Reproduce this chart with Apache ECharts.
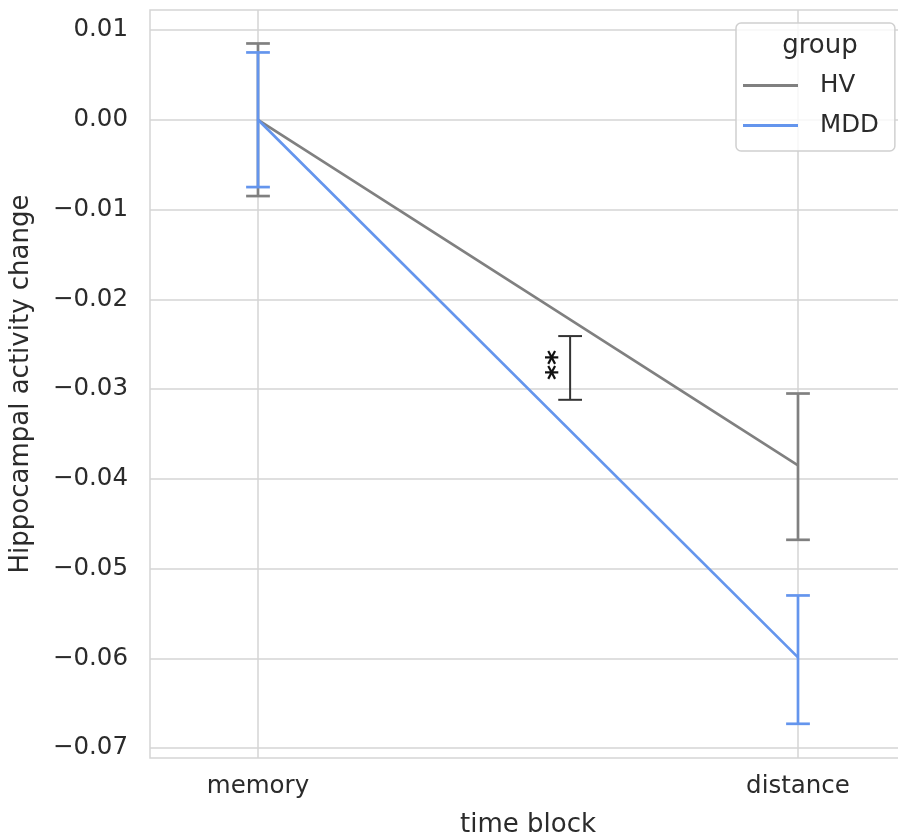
<!DOCTYPE html>
<html>
<head>
<meta charset="utf-8">
<script src="https://cdn.jsdelivr.net/npm/echarts@6/dist/echarts.min.js"></script>
<style>html,body{margin:0;padding:0;background:#fff}#c{width:898px;height:838px}</style>
</head>
<body>
<div id="c"></div>
<script>
// ---- data ----
const categories = ['memory', 'distance'];
const categoryPos = [0, 1];
const hvMean = [0.0, -0.0385];
const hvLow = [-0.0085, -0.0468];
const hvHigh = [0.0085, -0.0305];
const mddMean = [0.0, -0.0599];
const mddLow = [-0.0075, -0.0673];
const mddHigh = [0.0075, -0.0530];
const sigX = [0.578];
const sigLow = [-0.0312];
const sigHigh = [-0.0241];
const sigLabel = '**';
const yTicks = [0.01, 0.0, -0.01, -0.02, -0.03, -0.04, -0.05, -0.06, -0.07];
const yTickLabels = ['0.01', '0.00', '\u22120.01', '\u22120.02', '\u22120.03', '\u22120.04', '\u22120.05', '\u22120.06', '\u22120.07'];

const FONT = 'DejaVu Sans';
const TXT = '#2b2b2b';
const GRID = '#d5d5d5';
const HV_C = '#808080';
const MDD_C = '#6495ED';
const TICK_FS = 24.5;
const LABEL_FS = 26;

function lineData(means) { return categoryPos.map((x, i) => [x, means[i]]); }
function errData(lo, hi) { return categoryPos.map((x, i) => [x, lo[i], hi[i]]); }

function errRender(color, width) {
  return function (params, api) {
    const x = api.value(0), lo = api.value(1), hi = api.value(2);
    const pLo = api.coord([x, lo]);
    const pHi = api.coord([x, hi]);
    const half = api.size([0.022, 0])[0];
    const st = { stroke: color, lineWidth: width };
    return {
      type: 'group',
      children: [
        { type: 'line', shape: { x1: pLo[0], y1: pLo[1], x2: pHi[0], y2: pHi[1] }, style: st },
        { type: 'line', shape: { x1: pLo[0] - half, y1: pLo[1], x2: pLo[0] + half, y2: pLo[1] }, style: st },
        { type: 'line', shape: { x1: pHi[0] - half, y1: pHi[1], x2: pHi[0] + half, y2: pHi[1] }, style: st }
      ]
    };
  };
}

const chart = echarts.init(document.getElementById('c'), null, { renderer: 'canvas' });
chart.setOption({
  animation: false,
  backgroundColor: '#fff',
  textStyle: { fontFamily: FONT, color: TXT },
  grid: { left: 150, top: 10, width: 756, bottom: 80, show: true, borderColor: GRID, borderWidth: 1.5, containLabel: false, outerBoundsMode: 'none' },
  title: {
    text: 'group', left: 815, top: 28, textAlign: 'center',
    textStyle: { fontFamily: FONT, fontSize: LABEL_FS, fontWeight: 'normal', color: TXT }
  },
  legend: {
    data: ['HV', 'MDD'],
    orient: 'vertical',
    left: 736, top: 23,
    padding: [50, 16, 13, 7],
    icon: 'rect',
    itemWidth: 55, itemHeight: 3, itemGap: 15,
    borderColor: '#d0d0d0', borderWidth: 1.5, borderRadius: 5,
    backgroundColor: 'rgba(255,255,255,0.8)',
    textStyle: { fontFamily: FONT, fontSize: TICK_FS, color: TXT, padding: [0, 0, 0, 17] }
  },
  xAxis: {
    type: 'value', min: -0.2, max: 1.2,
    name: 'time block', nameLocation: 'middle', nameGap: 54,
    nameTextStyle: { fontFamily: FONT, fontSize: LABEL_FS, color: TXT },
    axisLine: { show: false }, axisTick: { show: false, customValues: categoryPos },
    splitLine: { show: true, lineStyle: { color: GRID, width: 1.5 } },
    axisLabel: {
      customValues: categoryPos, margin: 16,
      fontFamily: FONT, fontSize: TICK_FS, color: TXT,
      formatter: function (v) { const i = categoryPos.findIndex(p => Math.abs(p - v) < 1e-9); return i >= 0 ? categories[i] : ''; }
    }
  },
  yAxis: {
    type: 'value', min: -0.07111, max: 0.01223,
    name: 'Hippocampal activity change', nameLocation: 'middle', nameGap: 116,
    nameTextStyle: { fontFamily: FONT, fontSize: LABEL_FS, color: TXT },
    axisLine: { show: false }, axisTick: { show: false, customValues: yTicks },
    splitLine: { show: true, lineStyle: { color: GRID, width: 1.5 } },
    axisLabel: {
      customValues: yTicks, margin: 22,
      fontFamily: FONT, fontSize: TICK_FS, color: TXT,
      formatter: function (v) { const i = yTicks.findIndex(p => Math.abs(p - v) < 1e-9); return i >= 0 ? yTickLabels[i] : ''; }
    }
  },
  series: [
    {
      name: 'HV', type: 'line', data: lineData(hvMean), symbol: 'none',
      lineStyle: { color: HV_C, width: 2.7 }, itemStyle: { color: HV_C }, z: 3
    },
    {
      name: 'HV err', type: 'custom', data: errData(hvLow, hvHigh),
      renderItem: errRender(HV_C, 2.7), z: 3
    },
    {
      name: 'MDD', type: 'line', data: lineData(mddMean), symbol: 'none',
      lineStyle: { color: MDD_C, width: 2.7 }, itemStyle: { color: MDD_C }, z: 4
    },
    {
      name: 'MDD err', type: 'custom', data: errData(mddLow, mddHigh),
      renderItem: errRender(MDD_C, 2.7), z: 4
    },
    {
      name: 'sig', type: 'custom', data: sigX.map((x, i) => [x, sigLow[i], sigHigh[i]]), z: 5,
      renderItem: function (params, api) {
        const x = api.value(0), lo = api.value(1), hi = api.value(2);
        const pLo = api.coord([x, lo]);
        const pHi = api.coord([x, hi]);
        const half = api.size([0.022, 0])[0];
        const st = { stroke: '#333333', lineWidth: 2 };
        return {
          type: 'group',
          children: [
            { type: 'line', shape: { x1: pLo[0], y1: pLo[1], x2: pHi[0], y2: pHi[1] }, style: st },
            { type: 'line', shape: { x1: pLo[0] - half, y1: pLo[1], x2: pLo[0] + half, y2: pLo[1] }, style: st },
            { type: 'line', shape: { x1: pHi[0] - half, y1: pHi[1], x2: pHi[0] + half, y2: pHi[1] }, style: st },
            {
              type: 'text', x: pLo[0] - 12, y: (pLo[1] + pHi[1]) / 2 - 3, rotation: Math.PI / 2,
              style: { text: sigLabel, fontFamily: FONT, fontSize: 29, fontWeight: 'bold', fill: '#111', align: 'center', verticalAlign: 'middle' }
            }
          ]
        };
      }
    }
  ]
});
</script>
</body>
</html>
